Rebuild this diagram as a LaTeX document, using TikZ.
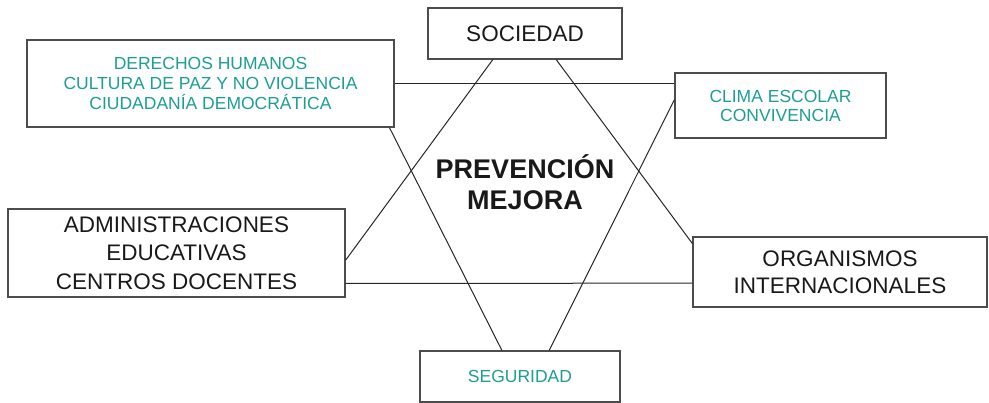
\documentclass[tikz,border=0pt]{standalone}
\usepackage{fontspec}
\setmainfont{Liberation Sans}
\usepackage{xcolor}
\usepackage{tikz}
\usetikzlibrary{calc}
\definecolor{verdeazul}{RGB}{28,158,148}

\begin{document}
\begin{tikzpicture}[x=1pt,y=-1pt,
  caja/.style={draw=black!70,line width=1.3pt,align=center,inner sep=0pt},
  grande/.style={caja,text=black!90,font=\fontsize{22.5}{28.5}\selectfont},
  pequena/.style={caja,text=verdeazul,font=\fontsize{17.5}{20}\selectfont},
  linea/.style={draw=black!85,line width=1pt}]
\useasboundingbox (0,0) rectangle (989,403);

\node[grande,minimum width=194pt,minimum height=51pt] (soc) at (525,33.5) {SOCIEDAD};
\node[pequena,minimum width=367pt,minimum height=87pt] (der) at (210.5,83.5) {DERECHOS HUMANOS\\CULTURA DE PAZ Y NO VIOLENCIA\\CIUDADANÍA DEMOCRÁTICA};
\node[pequena,minimum width=211pt,minimum height=65pt,font=\fontsize{17.5}{19}\selectfont] (clima) at (780.5,105.5) {CLIMA ESCOLAR\\CONVIVENCIA};
\node[grande,minimum width=337pt,minimum height=88pt] (adm) at (176.5,253) {ADMINISTRACIONES\\EDUCATIVAS\\CENTROS DOCENTES};
\node[grande,minimum width=294pt,minimum height=70pt,font=\fontsize{22.5}{27}\selectfont] (org) at (840,272) {ORGANISMOS\\INTERNACIONALES};
\node[pequena,minimum width=200pt,minimum height=51pt] (seg) at (520,376.5) {SEGURIDAD};
\node[align=center,text=black!90,font=\bfseries\fontsize{27}{31}\selectfont] (centro) at (525,182.5) {PREVENCIÓN\\MEJORA};

\draw[linea] ($(adm.north east)!0.58!(adm.south east)$) -- ($(soc.south west)!0.335!(soc.south east)$);
\draw[linea] ($(soc.south west)!0.66!(soc.south east)$) -- ($(org.north west)!0.1!(org.south west)$);
\draw[linea] ($(der.south west)!0.986!(der.south east)$) -- ($(seg.north west)!0.41!(seg.north east)$);
\draw[linea] ($(clima.north west)!0.415!(clima.south west)$) -- ($(seg.north west)!0.645!(seg.north east)$);
\draw[linea] (der.east) -- (der.east -| clima.west);
\draw[linea] ($(adm.north east)!0.84!(adm.south east)$) -- ($(org.north west)!0.657!(org.south west)$);

\end{tikzpicture}
\end{document}
